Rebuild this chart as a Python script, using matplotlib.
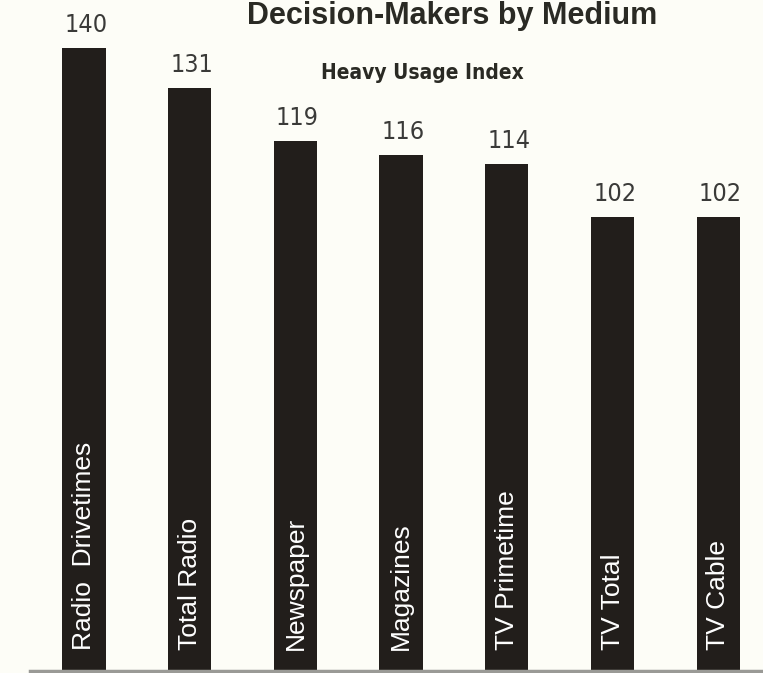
import matplotlib as mpl
import matplotlib.pyplot as plt
import numpy as np

mpl.use("Agg")

# Data
categories = ["Radio  Drivetimes", "Total Radio", "Newspaper", "Magazines",
              "TV Primetime", "TV Total", "TV Cable"]
values = [140, 131, 119, 116, 114, 102, 102]

title = "Decision-Makers by Medium"
subtitle = "Heavy Usage Index"

# Plot settings
narrow = ["DejaVu Sans"]
regular = ["Liberation Sans", "DejaVu Sans"]
bg = "#fdfdf7"
bar_color = "#221e1b"

W, H = 763, 673
f = plt.figure(figsize=(W / 100, H / 100), dpi=100, facecolor=bg)

# axes: baseline 2px above bottom, 4.45 px per unit
ax = f.add_axes([0, 2 / H, 1, (H - 2) / H])
ax.set_facecolor(bg)
x = np.arange(len(categories))
spacing = 105.7
ax.set_xlim(-84 / spacing, (W - 84) / spacing)
ax.set_ylim(0, (H - 2) / 4.45)

ax.bar(x, values, width=0.41, color=bar_color, zorder=2)

# baseline
ax.plot([30 / spacing - 84 / spacing, (W - 84) / spacing], [0, 0],
        color="#9a9a96", linewidth=2.5, clip_on=False, zorder=3)

for xi, v, cat in zip(x, values, categories):
    ax.annotate(str(v), (xi, v), xytext=(1.5, 11.5), textcoords="offset points",
                ha="center", va="baseline", fontsize=18, color="#3a3a38",
                family=narrow, fontstretch="condensed")
    ax.annotate(cat, (xi, 0), xytext=(0, 15), textcoords="offset points",
                ha="center", va="bottom", rotation=90, fontsize=19,
                color="white", family=regular)

f.text(452 / W, 1 - 24 / H, title, ha="center", va="baseline", fontsize=22,
       fontweight="bold", color="#2a2a24", family=regular)
f.text(422 / W, 1 - 79 / H, subtitle, ha="center", va="baseline", fontsize=15,
       fontweight="bold", color="#2a2a24", family=narrow,
       fontstretch="condensed")

ax.axis("off")

plt.savefig("out.png", dpi=100, facecolor=bg)
